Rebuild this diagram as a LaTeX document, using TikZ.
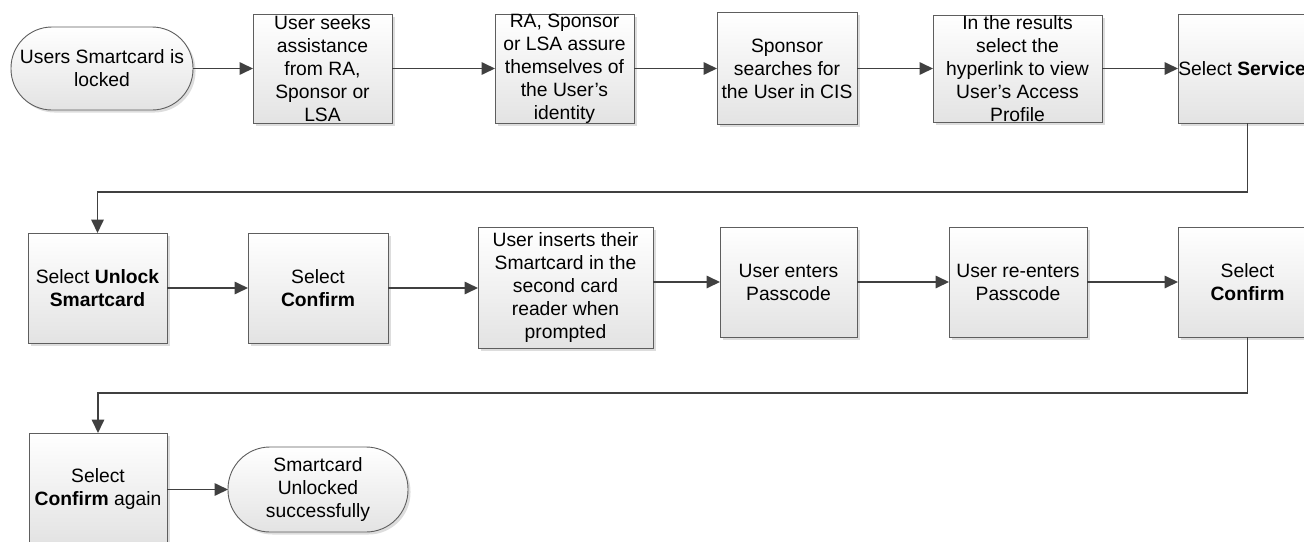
\documentclass[tikz,border=0pt]{standalone}
\usepackage{fontspec}
\setmainfont{Liberation Sans}
\usetikzlibrary{arrows.meta,shadows}
\definecolor{edgegray}{HTML}{5E5E5E}
\definecolor{linegray}{HTML}{404040}
\begin{document}
\begin{tikzpicture}[x=1pt,y=-1pt,
  boxbase/.style={draw=edgegray,line width=0.9pt,top color=white,bottom color=black!11,
    drop shadow={shadow xshift=2.5pt,shadow yshift=-2.5pt,fill=black!22,opacity=0.6},
    inner sep=0pt,outer sep=0pt},
  procbox/.style={boxbase,rectangle},
  termbox/.style={boxbase,rectangle,rounded corners=41pt},
  txt/.style={align=center,inner sep=0pt,text=black,font=\fontsize{19.3}{23}\selectfont},
  arr/.style={draw=linegray,line width=1.7pt,-{Triangle[length=13.5pt,width=12.5pt]}}
]
\useasboundingbox (0,0) rectangle (1304,541);
\clip (0,0) rectangle (1304,541);
\fill[white] (0,0) rectangle (1304,541);

% Row 1
\node[termbox,minimum width=182pt,minimum height=83pt] (t1) at (102,68.5) {};
\node[txt] (t1t) at (t1) {Users Smartcard is\\locked};
\node[procbox,minimum width=139pt,minimum height=109pt] (b1) at (322.5,68.5) {};
\node[txt] (b1t) at (b1) {User seeks\\assistance\\from RA,\\Sponsor or\\LSA};
\node[procbox,minimum width=139pt,minimum height=109pt] (b2) at (564.5,68.5) {};
\node[txt] (b2t) at (b2) {RA, Sponsor\\or LSA assure\\themselves of\\the User’s\\identity};
\node[procbox,minimum width=140pt,minimum height=112pt] (b3) at (787,68.5) {};
\node[txt] (b3t) at (b3) {Sponsor\\searches for\\the User in CIS};
\node[procbox,minimum width=169pt,minimum height=107pt] (b4) at (1017.5,68.5) {};
\node[txt] (b4t) at (b4) {In the results\\select the\\hyperlink to view\\User’s Access\\Profile};
\node[procbox,minimum width=139pt,minimum height=109pt] (b5) at (1247.5,68.5) {};
\node[txt] (b5t) at (b5) {Select \textbf{Services}};

% Row 2
\node[procbox,minimum width=139pt,minimum height=110pt] (r1) at (97.5,288) {};
\node[txt] (r1t) at (r1) {Select \textbf{Unlock}\\\textbf{Smartcard}};
\node[procbox,minimum width=140pt,minimum height=110pt] (r2) at (318,288) {};
\node[txt] (r2t) at (r2) {Select\\\textbf{Confirm}};
\node[procbox,minimum width=175pt,minimum height=121pt] (r3) at (565.5,287.5) {};
\node[txt] (r3t) at (r3) {User inserts their\\Smartcard in the\\second card\\reader when\\prompted};
\node[procbox,minimum width=137pt,minimum height=110pt] (r4) at (788.5,282) {};
\node[txt] (r4t) at (r4) {User enters\\Passcode};
\node[procbox,minimum width=138pt,minimum height=110pt] (r5) at (1018,282) {};
\node[txt] (r5t) at (r5) {User re-enters\\Passcode};
\node[procbox,minimum width=139pt,minimum height=110pt] (r6) at (1247.5,282) {};
\node[txt] (r6t) at (r6) {Select\\\textbf{Confirm}};

% Row 3
\node[procbox,minimum width=138pt,minimum height=110pt] (s1) at (98,488) {};
\node[txt] (s1t) at (98,489.5) {Select\\\textbf{Confirm} again};
\node[termbox,rounded corners=42pt,minimum width=180pt,minimum height=85pt] (t2) at (318,489.5) {};
\node[txt] (t2t) at (t2) {Smartcard\\Unlocked\\successfully};

% Connectors row 1
\draw[arr] (t1) -- (b1);
\draw[arr] (b1) -- (b2);
\draw[arr] (b2) -- (b3);
\draw[arr] (b3) -- (b4);
\draw[arr] (b4) -- (b5);

% Loop to row 2
\coordinate (k1) at (97.5,192);
\draw[arr] (b5.south) |- (k1) -- (r1.north);

% Connectors row 2
\draw[arr] (r1) -- (r2);
\draw[arr] (r2.east) -- (r3.west |- r2.east);
\draw[arr] (r3.east |- r4) -- (r4);
\draw[arr] (r4) -- (r5);
\draw[arr] (r5) -- (r6);

% Loop to row 3
\coordinate (k2) at (98,393);
\draw[arr] (r6.south) |- (k2) -- (s1.north);

% Row 3 connector
\draw[arr] (s1.east |- t2) -- (t2);
\end{tikzpicture}
\end{document}
